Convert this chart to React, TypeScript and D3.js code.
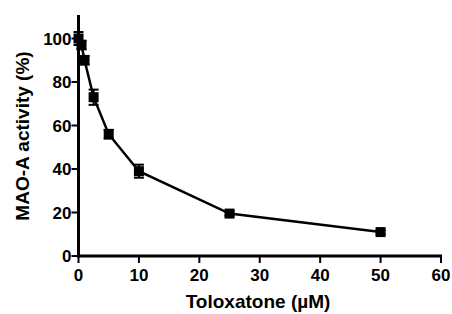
import * as d3 from "d3";

const doses = [0, 0.5, 1, 2.5, 5, 10, 25, 50];
const activity = [100, 97, 90, 73, 56, 39, 19.5, 11];
const errors = [3, 2, 2, 3.5, 2, 3, 1, 1];
const xTicks = [0, 10, 20, 30, 40, 50, 60];
const yTicks = [0, 20, 40, 60, 80, 100];

export default function App() {
  const width = 452;
  const height = 314;
  const x = d3.scaleLinear([0, 60], [78.5, 441]);
  const y = d3.scaleLinear([0, 100], [256, 38.5]);

  const points = doses.map((d, i) => ({ x: d, y: activity[i], e: errors[i] }));
  const line = d3
    .line<{ x: number; y: number }>()
    .x((p) => x(p.x))
    .y((p) => y(p.y));

  const font = "'Liberation Sans', Arial, sans-serif";

  return (
    <svg
      width={width}
      height={height}
      style={{ position: "absolute", left: 0, top: 0, background: "white" }}
      fontFamily={font}
    >
      {/* axes */}
      <g stroke="black" strokeWidth={3}>
        <line x1={x(0)} x2={x(0)} y1={15} y2={y(0) + 1.5} />
        <line x1={x(0) - 1.5} x2={x(60) + 1} y1={y(0)} y2={y(0)} />
      </g>
      <g stroke="black" strokeWidth={2}>
        {yTicks.map((t) => (
          <line key={t} x1={x(0) - 7} x2={x(0)} y1={y(t)} y2={y(t)} />
        ))}
        {xTicks.map((t) => (
          <line key={t} x1={x(t)} x2={x(t)} y1={y(0)} y2={y(0) + 7} />
        ))}
      </g>
      <g fontSize={17} fontWeight="bold" fill="black">
        {yTicks.map((t) => (
          <text key={t} x={x(0) - 7} y={y(t)} dy="0.36em" textAnchor="end">
            {t}
          </text>
        ))}
        {xTicks.map((t) => (
          <text key={t} x={x(t)} y={y(0) + 25} textAnchor="middle">
            {t}
          </text>
        ))}
      </g>
      <text
        x={258}
        y={308}
        textAnchor="middle"
        fontSize={19}
        fontWeight="bold"
      >
        Toloxatone (µM)
      </text>
      <text
        transform={`translate(29,136) rotate(-90)`}
        textAnchor="middle"
        fontSize={19}
        fontWeight="bold"
      >
        MAO-A activity (%)
      </text>
      {/* data */}
      <path d={line(points) ?? ""} fill="none" stroke="black" strokeWidth={2.5} />
      <g stroke="black" strokeWidth={2}>
        {points.map((p, i) => (
          <g key={i}>
            <line x1={x(p.x)} x2={x(p.x)} y1={y(p.y + p.e)} y2={y(p.y - p.e)} />
            <line x1={x(p.x) - 5} x2={x(p.x) + 5} y1={y(p.y + p.e)} y2={y(p.y + p.e)} />
            <line x1={x(p.x) - 5} x2={x(p.x) + 5} y1={y(p.y - p.e)} y2={y(p.y - p.e)} />
          </g>
        ))}
      </g>
      <g fill="black">
        {points.map((p, i) => (
          <rect key={i} x={x(p.x) - 5} y={y(p.y) - 5} width={10} height={10} />
        ))}
      </g>
    </svg>
  );
}
